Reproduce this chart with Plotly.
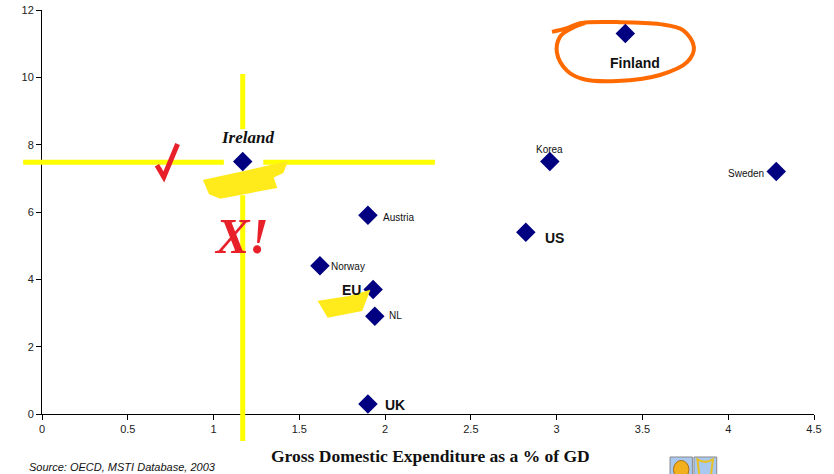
import plotly.graph_objects as go

# Business R&D vs gross domestic expenditure on R&D (% of GDP)
countries = ["Ireland", "Finland", "Korea", "Sweden", "Austria", "US", "Norway", "EU", "NL", "UK"]
gerd = [1.17, 3.40, 2.96, 4.28, 1.90, 2.82, 1.62, 1.93, 1.94, 1.90]
yvals = [7.5, 11.3, 7.5, 7.2, 5.9, 5.4, 4.4, 3.7, 2.9, 0.3]

x_ticks = [0, 0.5, 1, 1.5, 2, 2.5, 3, 3.5, 4, 4.5]
y_ticks = [0, 2, 4, 6, 8, 10, 12]

XMAX, YMAX = 4.5, 12.0

# label styling per country: (xshift, yshift, xanchor, size, bold, family, italic)
label_style = {
    "Ireland": (5, 24, "center", 17, True, "Liberation Serif", True),
    "Finland": (10, -29, "center", 14, True, "Liberation Sans", False),
    "Korea": (0, 12, "center", 10, False, "Liberation Sans", False),
    "Sweden": (-10, -2, "right", 10, False, "Liberation Sans", False),
    "Austria": (13, -2, "left", 10, False, "Liberation Sans", False),
    "US": (17, -6, "left", 14, True, "Liberation Sans", False),
    "Norway": (9, -1, "left", 10, False, "Liberation Sans", False),
    "EU": (-10, -1, "right", 14, True, "Liberation Sans", False),
    "NL": (12, 1, "left", 10, False, "Liberation Sans", False),
    "UK": (15, -1, "left", 14, True, "Liberation Sans", False),
}


def px(x):
    return x / XMAX


def py(y):
    return y / YMAX


def path(points, close=False):
    d = "M " + " L ".join(f"{px(x):.4f},{py(y):.4f}" for x, y in points)
    return d + (" Z" if close else "")


fig = go.Figure()

# orange loop around Finland
loop = [(2.973, 11.35), (3.060, 11.46), (3.136, 11.61), (3.352, 11.64), (3.602, 11.58),
        (3.736, 11.40), (3.800, 10.90), (3.760, 10.45), (3.602, 10.07), (3.352, 9.89),
        (3.153, 9.95), (3.060, 10.20), (3.002, 10.72), (3.019, 11.20), (3.089, 11.46),
        (3.165, 11.61)]
fig.add_trace(go.Scatter(
    x=[p[0] for p in loop], y=[p[1] for p in loop], mode="lines",
    line=dict(color="#FF6A00", width=4, shape="spline"),
    hoverinfo="skip", showlegend=False,
))

shapes = []
yellow = "#FFFF00"
# crosshair through Ireland
shapes.append(dict(type="line", xref="paper", yref="paper",
                   x0=px(1.17), x1=px(1.17), y0=py(10.1), y1=py(8.46),
                   line=dict(color=yellow, width=5)))
shapes.append(dict(type="line", xref="paper", yref="paper",
                   x0=px(1.17), x1=px(1.17), y0=py(6.5), y1=py(-0.8),
                   line=dict(color=yellow, width=5)))
shapes.append(dict(type="line", xref="paper", yref="paper",
                   x0=px(-0.11), x1=px(1.06), y0=py(7.48), y1=py(7.48),
                   line=dict(color=yellow, width=5)))
shapes.append(dict(type="line", xref="paper", yref="paper",
                   x0=px(1.29), x1=px(2.29), y0=py(7.48), y1=py(7.48),
                   line=dict(color=yellow, width=5)))
# highlighter strokes
swoosh_ie = [(0.95, 6.92), (1.20, 7.20), (1.42, 7.45), (1.40, 7.19), (1.34, 7.05),
             (1.36, 6.75), (1.04, 6.44), (0.98, 6.56)]
swoosh_eu = [(1.62, 3.33), (1.78, 3.45), (1.90, 3.62), (1.86, 3.10), (1.67, 2.91)]
for s in (swoosh_ie, swoosh_eu):
    shapes.append(dict(type="path", xref="paper", yref="paper", path=path(s, True),
                       fillcolor="#FFEA1C", line=dict(color="#FFEA1C", width=3)))
# red tick mark
check = [(0.67, 7.39), (0.71, 7.04), (0.79, 8.02)]
shapes.append(dict(type="path", xref="paper", yref="paper", path=path(check),
                   line=dict(color="#E8202A", width=5)))
# small crest box
shapes.append(dict(type="rect", xref="paper", yref="paper",
                   x0=0.8135, x1=0.8425, y0=-0.1064, y1=-0.16,
                   fillcolor="#A9C8F0", line=dict(color="#8a8a8a", width=1)))
shapes.append(dict(type="rect", xref="paper", yref="paper",
                   x0=0.8445, x1=0.874, y0=-0.1064, y1=-0.16,
                   fillcolor="#A9C8F0", line=dict(color="#8a8a8a", width=1)))
shapes.append(dict(type="circle", xref="paper", yref="paper",
                   x0=0.818, x1=0.838, y0=-0.115, y1=-0.16,
                   fillcolor="#F2B01E", line=dict(color="#B07010", width=1)))
shapes.append(dict(type="path", xref="paper", yref="paper",
                   path="M 0.849,-0.112 Q 0.859,-0.125 0.869,-0.112 L 0.866,-0.16 L 0.852,-0.16 Z",
                   fillcolor="rgba(0,0,0,0)", line=dict(color="#E8C020", width=2)))

fig.add_trace(go.Scatter(
    x=gerd, y=yvals, mode="markers",
    marker=dict(symbol="diamond", size=15, color="#000080"),
    text=countries, hoverinfo="text", showlegend=False,
))

annotations = []
for name, gx, gy in zip(countries, gerd, yvals):
    dx, dy, anchor, size, bold, fam, ital = label_style[name]
    txt = f"<b>{name}</b>" if bold else name
    if ital:
        txt = f"<i>{txt}</i>"
    annotations.append(dict(x=gx, y=gy, xref="x", yref="y", text=txt, showarrow=False,
                            xanchor=anchor, yanchor="middle", xshift=dx, yshift=dy,
                            font=dict(family=fam, size=size, color="#111111")))

annotations.append(dict(x=px(1.16), y=py(5.3), xref="paper", yref="paper",
                        text="<b><i>X!</i></b>", showarrow=False,
                        xanchor="center", yanchor="middle",
                        font=dict(family="Liberation Serif", size=50, color="#E8202A")))
annotations.append(dict(x=0.503, y=-0.104, xref="paper", yref="paper",
                        text="<b>Gross Domestic Expenditure as a % of GD</b>", showarrow=False,
                        xanchor="center", yanchor="middle",
                        font=dict(family="Liberation Serif", size=17.5, color="#111111")))
annotations.append(dict(x=-0.0194, y=-0.131, xref="paper", yref="paper",
                        text="<i>Source: OECD, MSTI Database, 2003</i>", showarrow=False,
                        xanchor="left", yanchor="middle",
                        font=dict(family="Liberation Sans", size=11, color="#111111")))

fig.update_layout(
    width=834, height=474,
    margin=dict(l=42, r=20, t=10, b=60),
    paper_bgcolor="white", plot_bgcolor="white",
    shapes=shapes, annotations=annotations,
    font=dict(family="Liberation Sans", size=11, color="#222222"),
    xaxis=dict(range=[0, XMAX], tickvals=x_ticks, ticktext=[f"{v:g}" for v in x_ticks],
               showline=True, linecolor="black", linewidth=1, ticks="outside",
               ticklen=5, tickcolor="black", showgrid=False, zeroline=False,
               fixedrange=True, automargin=False),
    yaxis=dict(range=[0, YMAX], tickvals=y_ticks, ticktext=[str(v) for v in y_ticks],
               showline=True, linecolor="black", linewidth=1, ticks="outside",
               ticklen=5, tickcolor="black", showgrid=False, zeroline=False,
               fixedrange=True, automargin=False),
)

fig.write_html("out.html")
